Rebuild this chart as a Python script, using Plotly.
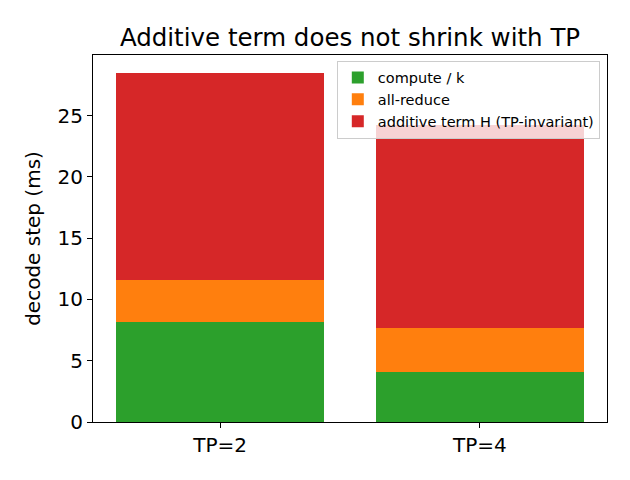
import plotly.graph_objects as go

categories = ["TP=2", "TP=4"]
compute_k = [8.2, 4.05]
all_reduce = [3.4, 3.6]
additive_h = [16.9, 16.6]

series = [
    ("compute / k", compute_k, "#2ca02c"),
    ("all-reduce", all_reduce, "#ff7f0e"),
    ("additive term H (TP-invariant)", additive_h, "#d62728"),
]

fig = go.Figure()
for name, vals, color in series:
    fig.add_trace(go.Bar(x=[0, 1], y=vals, name=name, marker_color=color,
                         marker_line_width=0, width=0.8))

font = "DejaVu Sans"
fig.update_layout(
    barmode="stack",
    width=630, height=480,
    margin=dict(l=93, r=23, t=55, b=58),
    paper_bgcolor="white", plot_bgcolor="white",
    font=dict(family=font, size=20, color="black"),
    title=dict(text="Additive term does not shrink with TP", x=0.5, xref="paper",
               xanchor="center", y=1 - 37 / 480, yanchor="middle",
               font=dict(size=24.5, family=font)),
    legend=dict(x=0.986, y=0.985, xanchor="right", yanchor="top",
                bgcolor="rgba(255,255,255,0.8)", bordercolor="#cccccc", borderwidth=1,
                font=dict(size=14.5, family=font), traceorder="normal",
                tracegroupgap=0, itemsizing="constant", itemwidth=30),
    showlegend=True,
)
fig.update_xaxes(range=[-0.49, 1.49], tickvals=[0, 1], ticktext=categories,
                 showline=True, linecolor="black", linewidth=1.2, mirror=True,
                 ticks="outside", ticklen=5, tickcolor="black", showgrid=False,
                 zeroline=False, tickfont=dict(size=20))
fig.update_yaxes(range=[0, 29.95], tickvals=[0, 5, 10, 15, 20, 25],
                 showline=True, linecolor="black", linewidth=1.2, mirror=True,
                 ticks="outside", ticklen=5, tickcolor="black", showgrid=False,
                 zeroline=False, title=dict(text="decode step (ms)", font=dict(size=20), standoff=11),
                 tickfont=dict(size=20))

fig.write_html("out.html")
